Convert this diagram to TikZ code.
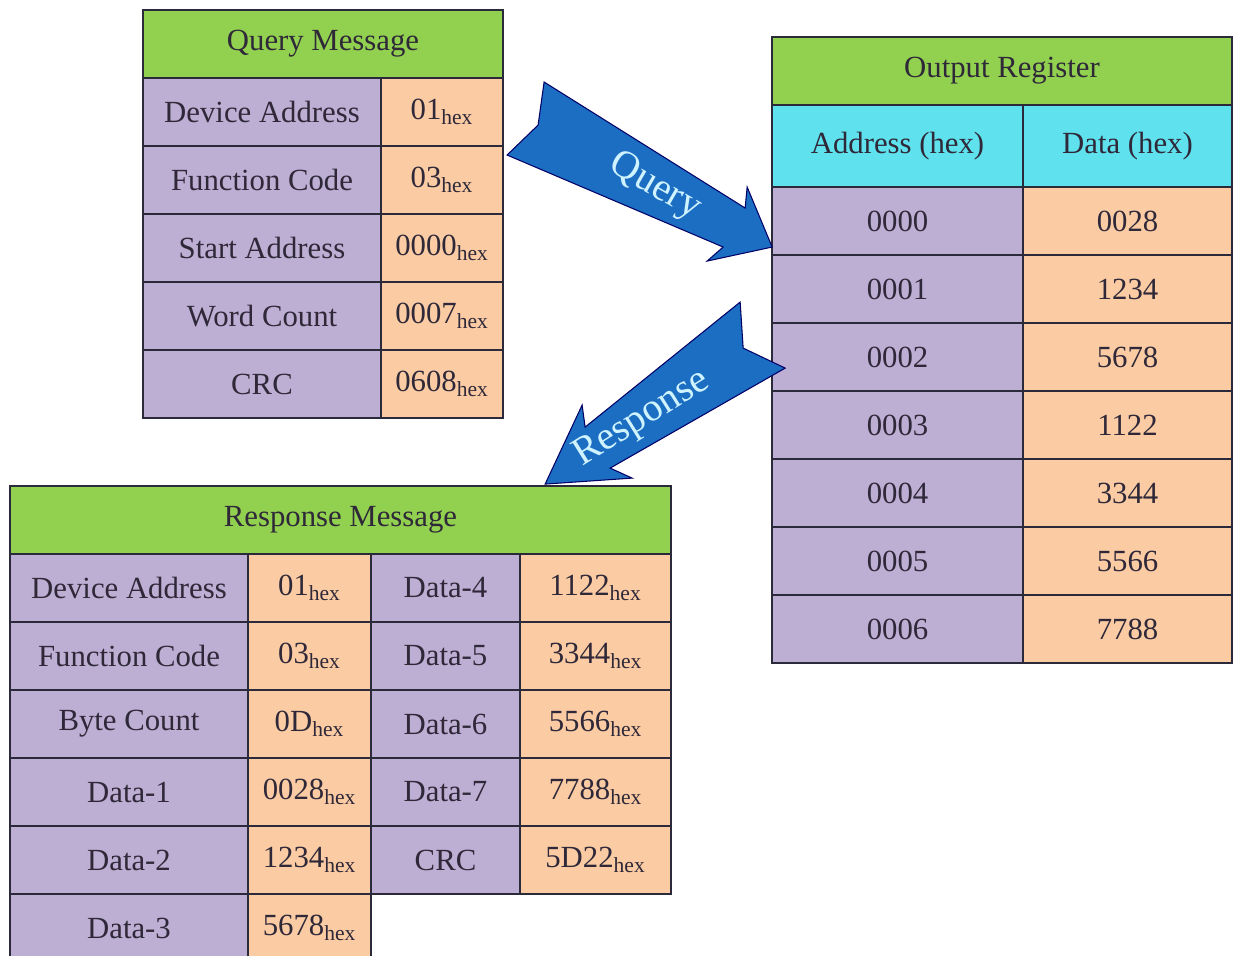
\documentclass[tikz,border=0pt]{standalone}
\usepackage{fontspec}
\setmainfont{Liberation Serif}
\usetikzlibrary{positioning}
\definecolor{hdgreen}{HTML}{92D050}
\definecolor{keypurple}{HTML}{BDAED3}
\definecolor{valorange}{HTML}{FBCBA4}
\definecolor{subcyan}{HTML}{60E2EE}
\definecolor{arrowblue}{HTML}{1B6EC2}
\definecolor{gridline}{HTML}{2B2A3A}
\definecolor{celltext}{HTML}{2E2838}
\definecolor{arrowtext}{HTML}{CFF3FF}
\newcommand{\hx}[1]{#1\textsubscript{hex}}

\begin{document}
\begin{tikzpicture}[node distance=0pt,
  cell/.style={draw=gridline,line width=0.9pt,outer sep=0pt,inner sep=0pt,
    minimum height=1.36cm,font=\fontsize{17.5}{20}\selectfont,text=celltext},
  keycell/.style={cell,fill=keypurple},
  valcell/.style={cell,fill=valorange},
  headcell/.style={cell,fill=hdgreen},
  subcell/.style={cell,fill=subcyan,minimum height=1.64cm},
  flow/.style={fill=arrowblue,draw=black!60!blue,line width=0.6pt,line join=miter},
  flowtext/.style={text=arrowtext,inner sep=0pt,font=\fontsize{22.5}{25}\selectfont}]
\useasboundingbox (0,0) rectangle (24.68,-19.1);

% query message
\node[headcell,minimum width=7.2cm,anchor=north west] (qh) at (2.86,-0.2) {Query Message};
\node[keycell,minimum width=4.76cm,below right=0pt and 0pt of qh.south west] (qk1) {Device Address};
\node[valcell,minimum width=2.44cm,right=of qk1] (qv1) {\hx{01}};
\node[keycell,minimum width=4.76cm,below=of qk1] (qk2) {Function Code};
\node[valcell,minimum width=2.44cm,right=of qk2] (qv2) {\hx{03}};
\node[keycell,minimum width=4.76cm,below=of qk2] (qk3) {Start Address};
\node[valcell,minimum width=2.44cm,right=of qk3] (qv3) {\hx{0000}};
\node[keycell,minimum width=4.76cm,below=of qk3] (qk4) {Word Count};
\node[valcell,minimum width=2.44cm,right=of qk4] (qv4) {\hx{0007}};
\node[keycell,minimum width=4.76cm,below=of qk4] (qk5) {CRC};
\node[valcell,minimum width=2.44cm,right=of qk5] (qv5) {\hx{0608}};

% output register
\node[headcell,minimum width=9.2cm,anchor=north west] (oh) at (15.44,-0.74) {Output Register};
\node[subcell,minimum width=5.02cm,below right=0pt and 0pt of oh.south west] (oa) {Address (hex)};
\node[subcell,minimum width=4.18cm,right=of oa] (od) {Data (hex)};
\node[keycell,minimum width=5.02cm,below=of oa] (oa0) {0000};
\node[valcell,minimum width=4.18cm,right=of oa0] (od0) {0028};
\node[keycell,minimum width=5.02cm,below=of oa0] (oa1) {0001};
\node[valcell,minimum width=4.18cm,right=of oa1] (od1) {1234};
\node[keycell,minimum width=5.02cm,below=of oa1] (oa2) {0002};
\node[valcell,minimum width=4.18cm,right=of oa2] (od2) {5678};
\node[keycell,minimum width=5.02cm,below=of oa2] (oa3) {0003};
\node[valcell,minimum width=4.18cm,right=of oa3] (od3) {1122};
\node[keycell,minimum width=5.02cm,below=of oa3] (oa4) {0004};
\node[valcell,minimum width=4.18cm,right=of oa4] (od4) {3344};
\node[keycell,minimum width=5.02cm,below=of oa4] (oa5) {0005};
\node[valcell,minimum width=4.18cm,right=of oa5] (od5) {5566};
\node[keycell,minimum width=5.02cm,below=of oa5] (oa6) {0006};
\node[valcell,minimum width=4.18cm,right=of oa6] (od6) {7788};

% response message
\node[headcell,minimum width=13.22cm,anchor=north west] (rh) at (0.2,-9.72) {Response Message};
\node[keycell,minimum width=4.76cm,below right=0pt and 0pt of rh.south west] (rk1) {Device Address};
\node[valcell,minimum width=2.46cm,right=of rk1] (rv1) {\hx{01}};
\node[keycell,minimum width=2.98cm,right=of rv1] (rk7) {Data-4};
\node[valcell,minimum width=3.02cm,right=of rk7] (rv7) {\hx{1122}};
\node[keycell,minimum width=4.76cm,below=of rk1] (rk2) {Function Code};
\node[valcell,minimum width=2.46cm,right=of rk2] (rv2) {\hx{03}};
\node[keycell,minimum width=2.98cm,right=of rv2] (rk8) {Data-5};
\node[valcell,minimum width=3.02cm,right=of rk8] (rv8) {\hx{3344}};
\node[keycell,minimum width=4.76cm,below=of rk2] (rk3) {Byte Count};
\node[valcell,minimum width=2.46cm,right=of rk3] (rv3) {\hx{0D}};
\node[keycell,minimum width=2.98cm,right=of rv3] (rk9) {Data-6};
\node[valcell,minimum width=3.02cm,right=of rk9] (rv9) {\hx{5566}};
\node[keycell,minimum width=4.76cm,below=of rk3] (rk4) {Data-1};
\node[valcell,minimum width=2.46cm,right=of rk4] (rv4) {\hx{0028}};
\node[keycell,minimum width=2.98cm,right=of rv4] (rk10) {Data-7};
\node[valcell,minimum width=3.02cm,right=of rk10] (rv10) {\hx{7788}};
\node[keycell,minimum width=4.76cm,below=of rk4] (rk5) {Data-2};
\node[valcell,minimum width=2.46cm,right=of rk5] (rv5) {\hx{1234}};
\node[keycell,minimum width=2.98cm,right=of rv5] (rk11) {CRC};
\node[valcell,minimum width=3.02cm,right=of rk11] (rv11) {\hx{5D22}};
\node[keycell,minimum width=4.76cm,below=of rk5] (rk6) {Data-3};
\node[valcell,minimum width=2.46cm,right=of rk6] (rv6) {\hx{5678}};

% block arrows
\begin{scope}[x=0.02cm,y=-0.02cm]
\draw[flow] (544,82) -- (745,208) -- (747,187) -- (772,247) -- (707,261)
  -- (723,247) -- (507,155) -- (538,125) -- cycle;
\node[flowtext,rotate=-30] (qlabel) at (655,187) {Query};
\draw[flow] (740,302) -- (743,348) -- (785,368) -- (610,468) -- (632,478)
  -- (545,484) -- (582,405) -- (585,427) -- cycle;
\node[flowtext,rotate=32] (rlabel) at (642,419) {Response};
\end{scope}
\end{tikzpicture}
\end{document}
